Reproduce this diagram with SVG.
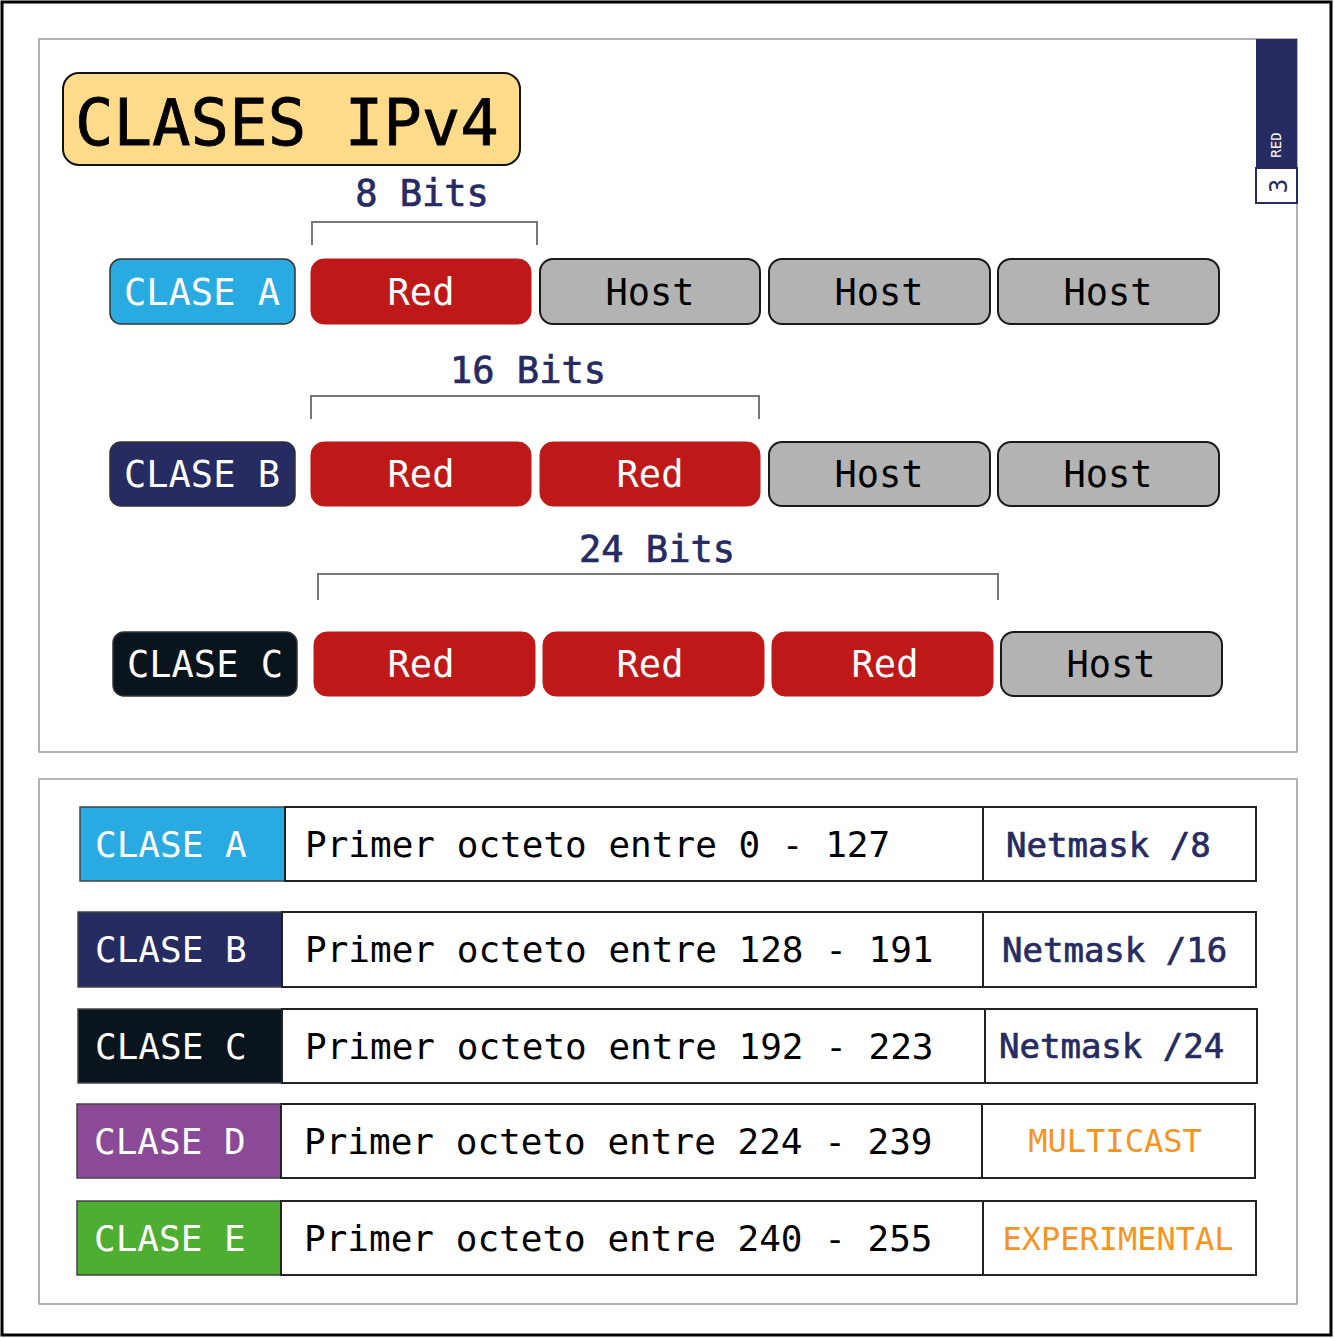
<svg xmlns="http://www.w3.org/2000/svg" width="1334" height="1338" viewBox="0 0 1334 1338">
<style>
text{font-family:"DejaVu Sans Mono","Liberation Mono",monospace}
.w{fill:#fff}
.k{fill:#000}
.n{fill:#262B62;stroke:#262B62;stroke-width:0.7}
.o{fill:#F7931E}
.t37{font-size:37px}
.t36{font-size:36px}
.t34{font-size:34px}
.t32{font-size:32px}
.mid{text-anchor:middle}
.red{fill:#BE1819;stroke:#BE1819;stroke-width:1}
.host{fill:#B3B3B3;stroke:#1a1a1a;stroke-width:2}
.br{fill:none;stroke:#777;stroke-width:2}
.cell{fill:#fff;stroke:#222;stroke-width:2}
.cc{stroke:#444;stroke-width:1.5}
</style>
<rect x="0" y="0" width="1334" height="1338" fill="#fff"/>
<rect x="2" y="2" width="1329" height="1333" fill="none" stroke="#000" stroke-width="3"/>
<rect x="39" y="39" width="1258" height="713" fill="#fff" stroke="#999" stroke-width="1.5"/>
<rect x="39" y="779" width="1258" height="525" fill="#fff" stroke="#999" stroke-width="1.5"/>

<g id="badge">
<rect x="1256" y="39" width="41" height="130" fill="#262B62"/>
<rect x="1256" y="168" width="41" height="35" fill="#fff" stroke="#262B62" stroke-width="2"/>
<text x="1281" y="145" class="w" font-size="14" text-anchor="middle" transform="rotate(-90 1281 145)">RED</text>
<text x="1287" y="186" fill="#262B62" font-size="24" text-anchor="middle" transform="rotate(-90 1287 186)">3</text>
</g>

<g id="title">
<rect x="63" y="73" width="457" height="92" rx="16" fill="#FFDB8A" stroke="#111" stroke-width="2"/>
<text x="75" y="145" class="k" font-size="64" stroke="#000" stroke-width="0.8">CLASES IPv4</text>
</g>

<g id="connectors">
<path class="br" d="M312 245V222H537V245"/>
<path class="br" d="M311 419V396H759V419"/>
<path class="br" d="M318 600V574H998V600"/>
</g>
<text x="422" y="206" class="n t37 mid">8 Bits</text>
<text x="528" y="383" class="n t37 mid">16 Bits</text>
<text x="657" y="562" class="n t37 mid">24 Bits</text>

<g id="rowA">
<rect x="110" y="259" width="185" height="65" rx="11" fill="#29ABE2" stroke="#333" stroke-width="1.5"/>
<text x="202" y="305" class="w t37 mid">CLASE A</text>
<rect class="red" x="311" y="259" width="220" height="65" rx="13"/>
<text x="421" y="305" class="w t37 mid">Red</text>
<rect class="host" x="540" y="259" width="220" height="65" rx="13"/>
<text x="650" y="305" class="k t37 mid">Host</text>
<rect class="host" x="769" y="259" width="221" height="65" rx="13"/>
<text x="879" y="305" class="k t37 mid">Host</text>
<rect class="host" x="998" y="259" width="221" height="65" rx="13"/>
<text x="1108" y="305" class="k t37 mid">Host</text>
</g>

<g id="rowB">
<rect x="110" y="442" width="185" height="64" rx="11" fill="#262B62" stroke="#333" stroke-width="1.5"/>
<text x="202" y="487" class="w t37 mid">CLASE B</text>
<rect class="red" x="311" y="442" width="220" height="64" rx="13"/>
<text x="421" y="487" class="w t37 mid">Red</text>
<rect class="red" x="540" y="442" width="220" height="64" rx="13"/>
<text x="650" y="487" class="w t37 mid">Red</text>
<rect class="host" x="769" y="442" width="221" height="64" rx="13"/>
<text x="879" y="487" class="k t37 mid">Host</text>
<rect class="host" x="998" y="442" width="221" height="64" rx="13"/>
<text x="1108" y="487" class="k t37 mid">Host</text>
</g>

<g id="rowC">
<rect x="113" y="632" width="184" height="64" rx="11" fill="#0A141C" stroke="#333" stroke-width="1.5"/>
<text x="205" y="677" class="w t37 mid">CLASE C</text>
<rect class="red" x="314" y="632" width="221" height="64" rx="13"/>
<text x="421" y="677" class="w t37 mid">Red</text>
<rect class="red" x="543" y="632" width="221" height="64" rx="13"/>
<text x="650" y="677" class="w t37 mid">Red</text>
<rect class="red" x="772" y="632" width="221" height="64" rx="13"/>
<text x="885" y="677" class="w t37 mid">Red</text>
<rect class="host" x="1001" y="632" width="221" height="64" rx="13"/>
<text x="1111" y="677" class="k t37 mid">Host</text>
</g>

<g id="tableA">
<rect class="cc" x="80" y="807" width="205" height="74" fill="#29ABE2"/>
<rect class="cell" x="285" y="807" width="698" height="74"/>
<rect class="cell" x="983" y="807" width="273" height="74"/>
<text x="95" y="857" class="w t36">CLASE A</text>
<text x="305" y="857" class="k t36">Primer octeto entre 0 - 127</text>
<text x="1006" y="857" class="n t34">Netmask /8</text>
</g>

<g id="tableB">
<rect class="cc" x="78" y="912" width="204" height="75" fill="#262B62"/>
<rect class="cell" x="282" y="912" width="701" height="75"/>
<rect class="cell" x="983" y="912" width="273" height="75"/>
<text x="95" y="962" class="w t36">CLASE B</text>
<text x="305" y="962" class="k t36">Primer octeto entre 128 - 191</text>
<text x="1002" y="962" class="n t34">Netmask /16</text>
</g>

<g id="tableC">
<rect class="cc" x="78" y="1009" width="204" height="74" fill="#0A141C"/>
<rect class="cell" x="282" y="1009" width="703" height="74"/>
<rect class="cell" x="985" y="1009" width="272" height="74"/>
<text x="95" y="1059" class="w t36">CLASE C</text>
<text x="305" y="1059" class="k t36">Primer octeto entre 192 - 223</text>
<text x="999" y="1058" class="n t34">Netmask /24</text>
</g>

<g id="tableD">
<rect class="cc" x="77" y="1104" width="204" height="74" fill="#8B4A97"/>
<rect class="cell" x="281" y="1104" width="701" height="74"/>
<rect class="cell" x="982" y="1104" width="273" height="74"/>
<text x="94" y="1154" class="w t36">CLASE D</text>
<text x="304" y="1154" class="k t36">Primer octeto entre 224 - 239</text>
<text x="1115" y="1152" class="o t32 mid">MULTICAST</text>
</g>

<g id="tableE">
<rect class="cc" x="77" y="1201" width="204" height="74" fill="#4DAE32"/>
<rect class="cell" x="281" y="1201" width="702" height="74"/>
<rect class="cell" x="983" y="1201" width="273" height="74"/>
<text x="94" y="1251" class="w t36">CLASE E</text>
<text x="304" y="1251" class="k t36">Primer octeto entre 240 - 255</text>
<text x="1118" y="1250" class="o t32 mid">EXPERIMENTAL</text>
</g>
</svg>
